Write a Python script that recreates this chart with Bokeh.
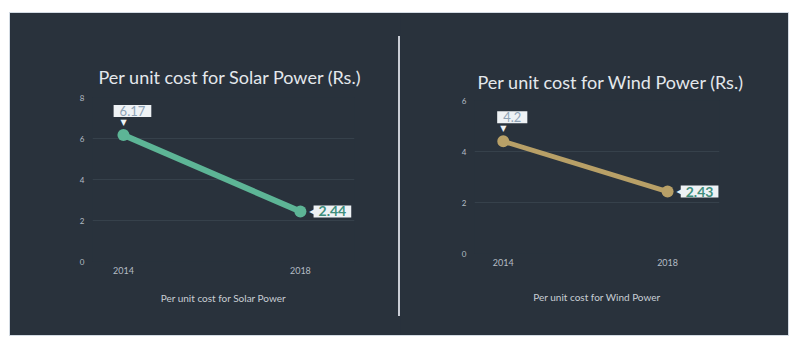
from bokeh.plotting import figure
from bokeh.models import FixedTicker, Div, Label
from bokeh.layouts import row
from bokeh.embed import file_html
from bokeh.resources import INLINE

# ---- data ----
years = [2014, 2018]
year_labels = ["2014", "2018"]
solar_cost = [6.17, 2.44]
solar_labels = ["6.17", "2.44"]
wind_cost = [4.4, 2.43]
wind_labels = ["4.2", "2.43"]
solar_ticks = [0, 2, 4, 6, 8]
wind_ticks = [0, 2, 4, 6]
solar_title = "Per unit cost for Solar Power (Rs.)"
wind_title = "Per unit cost for Wind Power (Rs.)"
solar_name = "Per unit cost for Solar Power"
wind_name = "Per unit cost for Wind Power"

BG = "#29323c"
GRID = "#36414b"
FONT = "Lato"
BOX = "#eef2f5"


def make_chart(title, name, ys, labels, yticks, color, lw, width, x_end,
               mbl, mbr, mbt, mbb, title_off, title_standoff, leg_standoff):
    p = figure(width=width, height=322, x_range=(2013.3, x_end),
               y_range=(yticks[0], yticks[-1]), output_backend="svg",
               toolbar_location=None, min_border_left=mbl, min_border_right=mbr,
               min_border_top=mbt, min_border_bottom=mbb)
    p.frame_align = False
    p.background_fill_color = BG
    p.border_fill_color = BG
    p.outline_line_color = None
    p.title.text = title
    p.title.text_font = FONT
    p.title.text_font_size = "18px"
    p.title.text_font_style = "normal"
    p.title.text_color = "#e4e8ec"
    p.title.align = "left"
    p.title.offset = title_off
    p.title.standoff = title_standoff

    p.xgrid.grid_line_color = None
    p.ygrid.grid_line_color = GRID
    p.ygrid.grid_line_width = 1
    p.yaxis.ticker = FixedTicker(ticks=yticks)
    p.xaxis.ticker = FixedTicker(ticks=years)
    p.xaxis.major_label_overrides = {y: l for y, l in zip(years, year_labels)}
    for ax in (p.xaxis, p.yaxis):
        ax.axis_line_color = None
        ax.major_tick_line_color = None
        ax.minor_tick_line_color = None
        ax.major_tick_out = 0
        ax.major_tick_in = 0
        ax.major_label_text_font = FONT
        ax.major_label_text_color = "#b4bcc4"
    p.yaxis.major_label_text_font_size = "8px"
    p.xaxis.major_label_text_font_size = "9px"
    p.yaxis.major_label_standoff = 8
    p.xaxis.major_label_standoff = 5

    # series name shown under the x axis (legend text)
    p.xaxis.axis_label = name
    p.xaxis.axis_label_text_font = FONT
    p.xaxis.axis_label_text_font_size = "10px"
    p.xaxis.axis_label_text_font_style = "normal"
    p.xaxis.axis_label_text_color = "#c8ced4"
    p.xaxis.axis_label_standoff = leg_standoff

    p.line(years, ys, line_color=color, line_width=lw)
    p.scatter(years, ys, size=12, fill_color=color, line_color=None)

    # callouts: first point above, last point to the right
    p.add_layout(Label(x=years[0], y=ys[0], text="\u25bc", x_offset=0, y_offset=13,
                       text_align="center", text_baseline="middle",
                       text_color=BOX, text_font_size="8px", text_font="DejaVu Sans"))
    p.add_layout(Label(x=years[0], y=ys[0], text=labels[0], x_offset=9, y_offset=24,
                       text_align="center", text_baseline="middle",
                       text_color="#8ea3b6", text_font_size="13px", text_font=FONT,
                       background_fill_color=BOX, border_line_color=None,
                       padding=(6, 1)))
    p.add_layout(Label(x=years[1], y=ys[1], text="\u25c0", x_offset=12, y_offset=0,
                       text_align="center", text_baseline="middle",
                       text_color=BOX, text_font_size="8px", text_font="DejaVu Sans"))
    p.add_layout(Label(x=years[1], y=ys[1], text=labels[1], x_offset=32, y_offset=0,
                       text_align="center", text_baseline="middle",
                       text_color="#3f8e7c", text_font_size="14px", text_font=FONT,
                       text_font_style="bold",
                       background_fill_color=BOX, border_line_color=None,
                       padding=(5, 1)))
    return p


p1 = make_chart(solar_title, solar_name, solar_cost, solar_labels, solar_ticks,
                "#5db596", 6, 388, 2019.223, 82, 44, 84, 74, 6, 19, 15)
p2 = make_chart(wind_title, wind_name, wind_cost, wind_labels, wind_ticks,
                "#b8a067", 5, 388, 2019.264, 74, 69, 87, 82, 3, 15, 22)

sep = Div(width=2, height=280, margin=(23, 0, 0, 0),
          styles={"background-color": "#c9cdd5"})

layout = row(p1, sep, p2, margin=(13, 12, 11, 10),
             styles={"background-color": BG, "outline": "1px solid #d3dbe3"})

open("out.html", "w").write(file_html(layout, INLINE))
